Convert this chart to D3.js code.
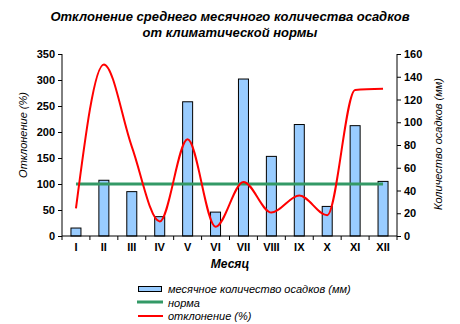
<!DOCTYPE html>
<html><head><meta charset="utf-8">
<script src="https://cdn.jsdelivr.net/npm/d3@7/dist/d3.min.js"></script>
<style>body{margin:0;background:#fff}svg{font-family:Arial,"Liberation Sans",sans-serif}</style>
</head><body><svg id="c" width="460" height="324"></svg>
<script>
const months = ["I","II","III","IV","V","VI","VII","VIII","IX","X","XI","XII"];
const precipMM = [7,49,39,17,118,21,138,70,98,26,97,48];
const normPct = [100,100,100,100,100,100,100,100,100,100,100,100];
const deviationPct = [53,330,172,28,186,18,104,45,78,40,281,283];
const leftTicks = [0,50,100,150,200,250,300,350];
const rightTicks = [0,20,40,60,80,100,120,140,160];

const svg = d3.select("#c");
const L = 62, R = 397, T = 54, B = 236;
const x = d3.scaleBand().domain(months).range([L, R]);
const yL = d3.scaleLinear().domain([0,350]).range([B, T]);
const yR = d3.scaleLinear().domain([0,160]).range([B, T]);

// title
svg.append("text").attr("x",230).attr("y",21).attr("text-anchor","middle")
  .attr("font-size",13).attr("font-weight","bold").attr("font-style","italic")
  .text("Отклонение среднего месячного количества осадков");
svg.append("text").attr("x",230).attr("y",37).attr("text-anchor","middle")
  .attr("font-size",13).attr("font-weight","bold").attr("font-style","italic")
  .text("от климатической нормы");

// bars
svg.append("g").selectAll("rect").data(precipMM).join("rect")
  .attr("x",(d,i)=>x(months[i])+x.bandwidth()/2-5).attr("width",10)
  .attr("y",d=>yR(d)).attr("height",d=>B-yR(d))
  .attr("fill","#99ccff").attr("stroke","#000").attr("stroke-width",1);

// norm line
const cx = m => x(m)+x.bandwidth()/2;
svg.append("path").datum(normPct)
  .attr("d", d3.line().x((d,i)=>cx(months[i])).y(d=>yL(d)))
  .attr("fill","none").attr("stroke","#339966").attr("stroke-width",3);

// deviation line
svg.append("path").datum(deviationPct)
  .attr("d", d3.line().x((d,i)=>cx(months[i])).y(d=>yL(d)).curve(d3.curveMonotoneX))
  .attr("fill","none").attr("stroke","#ff0000").attr("stroke-width",2);

// axes
const axL = svg.append("g").attr("transform",`translate(${L},0)`)
  .call(d3.axisLeft(yL).tickValues(leftTicks).tickSize(4).tickPadding(3));
const axR = svg.append("g").attr("transform",`translate(${R},0)`)
  .call(d3.axisRight(yR).tickValues(rightTicks).tickSize(4).tickPadding(3));
const axB = svg.append("g").attr("transform",`translate(0,${B})`)
  .call(d3.axisBottom(x).tickSize(0).tickPadding(7));
// boundary ticks
svg.append("g").selectAll("line").data(d3.range(months.length+1)).join("line")
  .attr("x1",i=>L+i*x.step()).attr("x2",i=>L+i*x.step()).attr("y1",B).attr("y2",B+4)
  .attr("stroke","#000");
[axL,axR,axB].forEach(a=>{
  a.selectAll("path.domain").attr("stroke","#000");
  a.selectAll("line").attr("stroke","#000");
  a.selectAll("text").attr("font-size",11).attr("font-weight","bold")
    .attr("font-family","Arial, 'Liberation Sans', sans-serif").attr("fill","#000");
});
axL.select("path.domain").attr("d",`M0,${T}V${B}`);
axR.select("path.domain").attr("d",`M0,${T}V${B}`);
axB.select("path.domain").attr("d",`M${L},0H${R}`);

// axis titles
svg.append("text").attr("transform","translate(27,135) rotate(-90)").attr("text-anchor","middle")
  .attr("font-size",11).attr("font-style","italic").text("Отклонение (%)");
svg.append("text").attr("transform","translate(442,144) rotate(-90)").attr("text-anchor","middle")
  .attr("font-size",11).attr("font-style","italic").text("Количество осадков (мм)");
svg.append("text").attr("x",230).attr("y",268).attr("text-anchor","middle")
  .attr("font-size",12).attr("font-weight","bold").attr("font-style","italic").text("Месяц");

// legend
const lg = svg.append("g");
lg.append("rect").attr("x",138.5).attr("y",286.5).attr("width",23).attr("height",5)
  .attr("fill","#99ccff").attr("stroke","#000");
lg.append("line").attr("x1",137).attr("x2",163).attr("y1",302).attr("y2",302)
  .attr("stroke","#339966").attr("stroke-width",3);
lg.append("line").attr("x1",138).attr("x2",163).attr("y1",316).attr("y2",316)
  .attr("stroke","#ff0000").attr("stroke-width",2);
const legTexts = ["месячное количество осадков (мм)","норма","отклонение (%)"];
lg.selectAll("text.l").data(legTexts).join("text").attr("class","l")
  .attr("x",168).attr("y",(d,i)=>293+i*13.5)
  .attr("font-size",11).attr("font-style","italic").text(d=>d);
</script></body></html>
